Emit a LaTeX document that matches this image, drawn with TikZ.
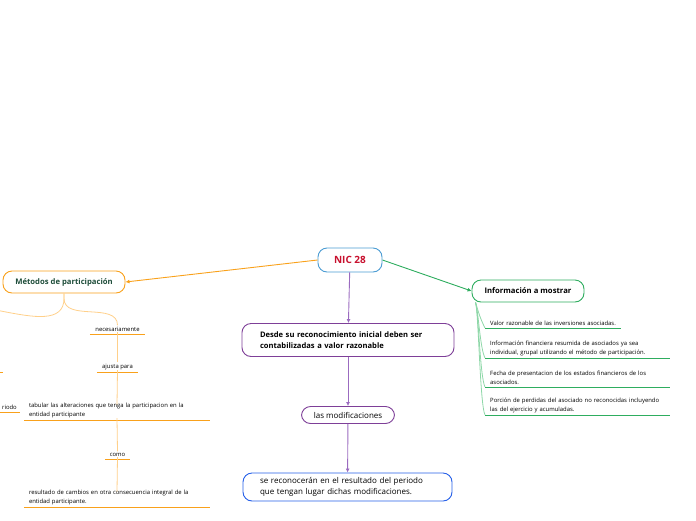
\documentclass[tikz,border=0pt]{standalone}
\usepackage{fontspec}
\setmainfont{Open Sans}
\usepackage{xcolor}
\usepackage{tikz}
\usetikzlibrary{arrows.meta, positioning}
\definecolor{nicblue}{HTML}{4B9CD3}
\definecolor{nicred}{HTML}{C8102E}
\definecolor{metorange}{HTML}{F9A11B}
\definecolor{metlight}{HTML}{FFD08A}
\definecolor{metgreen}{HTML}{1E4D3A}
\definecolor{infgreen}{HTML}{2EAD5F}
\definecolor{inflight}{HTML}{8ED7A8}
\definecolor{despurple}{HTML}{7E3F98}
\definecolor{arrpurple}{HTML}{9B6BC0}
\definecolor{recblue}{HTML}{2660E8}

\begin{document}
\begin{tikzpicture}[x=1pt, y=-1pt,
  topic/.style={draw, rounded corners=9pt, line width=0.9pt, fill=white,
                inner sep=0pt, font=\fontsize{8}{11}\selectfont},
  sub/.style={inner sep=2pt, font=\fontsize{5.9}{9}\selectfont, align=left},
  word/.style={inner sep=2pt, font=\fontsize{5.9}{9}\selectfont},
  link/.style={line width=0.9pt, -{Latex[length=4pt,width=4pt]}}]
  \useasboundingbox (0,0) rectangle (696,520);

  \node[topic, draw=nicblue, text=nicred, font=\fontsize{10}{11}\bfseries,
        minimum width=64pt, minimum height=24pt] (nic) at (350,260) {NIC 28};
  \node[topic, draw=metorange, text=metgreen, font=\fontsize{7.7}{10}\bfseries,
        minimum width=122pt, minimum height=22pt] (met) at (64,282) {Métodos de participación};
  \node[topic, draw=infgreen, font=\fontsize{7.7}{10}\bfseries,
        minimum width=112pt, minimum height=22pt] (inf) at (528,291) {Información a mostrar};
  \node[topic, draw=despurple, font=\fontsize{7.6}{11}\bfseries, align=left,
        minimum width=212pt, minimum height=33pt, text width=176pt] (des) at (348,340)
        {Desde su reconocimiento inicial deben ser\\contabilizadas a valor razonable};
  \node[topic, draw=despurple, minimum width=93pt, minimum height=17pt] (mod) at (348,415)
        {las modificaciones};
  \node[topic, draw=recblue, align=left, minimum width=209pt, minimum height=28pt,
        text width=175pt] (rec) at (347.5,487)
        {se reconocerán en el resultado del periodo\\que tengan lugar dichas modificaciones.};

  \draw[link, metorange] (nic.west) -- (met.east);
  \draw[link, infgreen] (nic.east) -- (inf.west);
  \draw[link, arrpurple] (nic) -- (des);
  \draw[link, arrpurple] (des) -- (mod);
  \draw[link, arrpurple] (mod) -- (rec);

  \node[word, minimum width=55pt, anchor=south] (nec) at (117.5,334) {necesariamente};
  \node[word, minimum width=41pt, anchor=south] (aju) at (117.5,372) {ajusta para};
  \node[sub, text width=176pt, anchor=south] (tab) at (117,420)
        {tabular las alteraciones que tenga la participacion en la\\entidad participante};
  \node[word, minimum width=25pt, anchor=south] (com) at (117.5,459) {como};
  \node[sub, text width=176pt, anchor=south] (res) at (117,507)
        {resultado de cambios en otra consecuencia integral de la\\entidad participante.};
  \node[word, minimum width=60pt, anchor=south east] (lft) at (3,372) {};
  \node[word, inner xsep=0pt, anchor=south east] (per) at (17,412) {riodo};
  \coordinate (hid) at (-60,324);
  \foreach \n in {nec, aju, com, lft}
    \draw[metorange, line width=1pt] (\n.south west) -- (\n.south east);
  \draw[metorange, line width=1pt] ([xshift=-30pt]per.south east) -- ([xshift=3pt]per.south east);
  \foreach \n in {tab, res}
    \draw[metorange, line width=1pt] ([xshift=-3pt]\n.south west) -- ([xshift=3pt]\n.south east);
  \draw[metlight, line width=0.8pt] (met.south) -- ++(0,5) to[out=-90, in=90] (nec.north);
  \draw[metlight, line width=0.8pt] (met.south) -- ++(0,5) to[out=-90, in=90] (hid);
  \draw[metlight, line width=0.8pt] ([yshift=2pt]nec.south) -- (aju.north);
  \draw[metlight, line width=0.8pt] ([yshift=2pt]aju.south) -- ([yshift=-4pt]tab.north);
  \draw[metlight, line width=0.8pt] ([yshift=2pt]tab.south) -- (com.north);
  \draw[metlight, line width=0.8pt] ([yshift=2pt]com.south) -- ([yshift=-4pt]res.north);

  \foreach \i/\w/\y/\t in {
      1/136/328/{Valor razonable de las inversiones asociadas.},
      2/185/358/{Información financiera resumida de asociados ya sea\\individual, grupal utilizando el método de participación.},
      3/185/387/{Fecha de presentacion de los estados financieros de los\\asociados.},
      4/185/415/{Porción de perdidas del asociado no reconocidas incluyendo\\las del ejercicio y acumuladas.}} {
    \node[sub, text width=\w pt-10pt, anchor=south west] (it\i) at (488,\y) {\t};
    \draw[infgreen, line width=1pt] ([xshift=-3pt]it\i.south west) -- ([xshift=\w pt-3pt]it\i.south west);
    \draw[inflight, line width=0.8pt] ([xshift=4pt]inf.south west)
      .. controls +(3,10) and +(-5,-10) .. ([xshift=-3pt]it\i.south west);
  }
\end{tikzpicture}
\end{document}
